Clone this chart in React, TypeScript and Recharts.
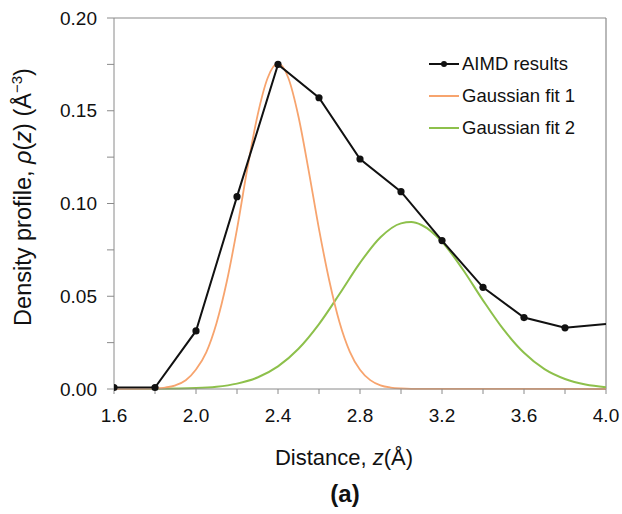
import React from 'react';
import { LineChart, Line, XAxis, YAxis, ReferenceLine, Legend, Label } from 'recharts';

// AIMD density profile (z in Å, rho in Å^-3)
const aimdZ = [1.6, 1.8, 2.0, 2.2, 2.4, 2.6, 2.8, 3.0, 3.2, 3.4, 3.6, 3.8, 4.0];
const aimdRho = [0.0008, 0.0008, 0.0313, 0.1037, 0.175, 0.157, 0.124, 0.1064, 0.08, 0.0548, 0.0385, 0.033, 0.035];

// Gaussian fit 1
const fit1Z = [1.6, 1.75, 1.8, 1.85, 1.9, 1.95, 2.0, 2.05, 2.1, 2.15, 2.2, 2.25, 2.3, 2.35, 2.4, 2.45, 2.5, 2.55, 2.6, 2.65, 2.7, 2.75, 2.8, 2.85, 2.9, 2.95, 3.0, 3.05, 4.0];
const fit1Rho = [0, 0.0001, 0.0003, 0.0008, 0.002, 0.0047, 0.0105, 0.0198, 0.0355, 0.0578, 0.0862, 0.1185, 0.1474, 0.1678, 0.1755, 0.1678, 0.1468, 0.1175, 0.0862, 0.0585, 0.036, 0.0202, 0.0104, 0.0048, 0.002, 0.0008, 0.0003, 0.0001, 0];

// Gaussian fit 2
const fit2Z = [1.6, 1.8, 2.0, 2.1, 2.2, 2.3, 2.4, 2.5, 2.6, 2.7, 2.8, 2.9, 3.0, 3.05, 3.1, 3.2, 3.3, 3.4, 3.5, 3.6, 3.7, 3.8, 3.9, 4.0];
const fit2Rho = [0, 0.0001, 0.0005, 0.0012, 0.0029, 0.0062, 0.0122, 0.0217, 0.035, 0.0512, 0.068, 0.0818, 0.0893, 0.09, 0.0884, 0.0794, 0.0647, 0.0478, 0.0321, 0.0195, 0.0107, 0.0054, 0.0024, 0.001];

const xTicks = [1.6, 1.8, 2.0, 2.2, 2.4, 2.6, 2.8, 3.0, 3.2, 3.4, 3.6, 3.8, 4.0];
const xLabelled = [1.6, 2.0, 2.4, 2.8, 3.2, 3.6, 4.0];
const yTicks = [0, 0.025, 0.05, 0.075, 0.1, 0.125, 0.15, 0.175, 0.2];
const yLabelled = [0, 0.05, 0.1, 0.15, 0.2];

const zip = (zs: number[], vs: number[]) => zs.map((z, i) => ({ z, rho: vs[i] }));
const aimd = zip(aimdZ, aimdRho);
const fit1 = zip(fit1Z, fit1Rho);
const fit2 = zip(fit2Z, fit2Rho);

const FONT = '"Liberation Sans", Arial, sans-serif';
const AXIS = '#8a8a8a';
const ORANGE = '#F7A46E';
const GREEN = '#8DC04B';

const hasLabel = (list: number[], v: number) => list.some((t) => Math.abs(t - v) < 1e-6);

const renderLegend = (props: any) => (
  <div style={{ fontFamily: FONT, fontSize: 18.5, color: '#111' }}>
    {props.payload.map((entry: any) => (
      <div key={entry.value} style={{ height: 32, display: 'flex', alignItems: 'center' }}>
        <svg width={32} height={12} style={{ marginRight: 2 }}>
          <line x1={1} y1={6} x2={31} y2={6} stroke={entry.color} strokeWidth={2} />
          {entry.value === 'AIMD results' && <circle cx={16} cy={6} r={3} fill="#111" />}
        </svg>
        <span>{entry.value}</span>
      </div>
    ))}
  </div>
);

const lastIdx = aimd.length - 1;

export default function App() {
  return (
    <div style={{ position: 'absolute', left: 0, top: 0, width: 622, height: 514, background: '#fff' }}>
      <LineChart width={622} height={514} margin={{ top: 18, right: 16, bottom: 85, left: 14 }}>
        <XAxis
          type="number"
          dataKey="z"
          domain={[1.6, 4.0]}
          ticks={xTicks}
          allowDataOverflow
          height={40}
          stroke={AXIS}
          tickSize={5}
          tickMargin={15}
          tick={{ fontSize: 19, fill: '#111', fontFamily: FONT }}
          tickFormatter={(v: number) => (hasLabel(xLabelled, v) ? v.toFixed(1) : '')}
        >
          <Label
            content={() => (
              <g fontFamily={FONT} fill="#111">
                <text x={344} y={465} textAnchor="middle" fontSize={22}>
                  Distance, <tspan fontStyle="italic">z</tspan>(Å)
                </text>
                <text x={345} y={502} textAnchor="middle" fontSize={24} fontWeight="bold">
                  (a)
                </text>
              </g>
            )}
          />
        </XAxis>
        <YAxis
          type="number"
          domain={[0, 0.2]}
          ticks={yTicks}
          width={100}
          stroke={AXIS}
          tickSize={7}
          tickMargin={10}
          tick={{ fontSize: 19, fill: '#111', fontFamily: FONT }}
          tickFormatter={(v: number) => (hasLabel(yLabelled, v) ? v.toFixed(2) : '')}
        >
          <Label
            content={() => (
              <text
                x={31}
                y={197}
                transform="rotate(-90 31 197)"
                textAnchor="middle"
                fontSize={23.5}
                fontFamily={FONT}
                fill="#111"
              >
                Density profile, <tspan fontStyle="italic">ρ</tspan>(<tspan fontStyle="italic">z</tspan>) (Å
                <tspan dy={-9} fontSize={15}>−3</tspan>
                <tspan dy={9}>)</tspan>
              </text>
            )}
          />
        </YAxis>
        <ReferenceLine y={0.2} stroke={AXIS} strokeWidth={1.2} />
        <ReferenceLine x={4.0} stroke={AXIS} strokeWidth={1.2} />
        <Legend
          layout="vertical"
          verticalAlign="middle"
          align="center"
          content={renderLegend}
          wrapperStyle={{ position: 'absolute', left: 428, top: 48, width: 180 }}
        />
        <Line
          data={fit2}
          dataKey="rho"
          name="Gaussian fit 2"
          type="monotone"
          stroke={GREEN}
          strokeWidth={2}
          dot={false}
          isAnimationActive={false}
        />
        <Line
          data={fit1}
          dataKey="rho"
          name="Gaussian fit 1"
          type="monotone"
          stroke={ORANGE}
          strokeWidth={1.8}
          dot={false}
          isAnimationActive={false}
        />
        <Line
          data={aimd}
          dataKey="rho"
          name="AIMD results"
          type="linear"
          stroke="#111"
          strokeWidth={2}
          dot={(p: any) =>
            p.index === lastIdx ? (
              <g key={`d-${p.index}`} />
            ) : (
              <circle key={`d-${p.index}`} cx={p.cx} cy={p.cy} r={3.6} fill="#111" stroke="none" />
            )
          }
          isAnimationActive={false}
        />
      </LineChart>
    </div>
  );
}
